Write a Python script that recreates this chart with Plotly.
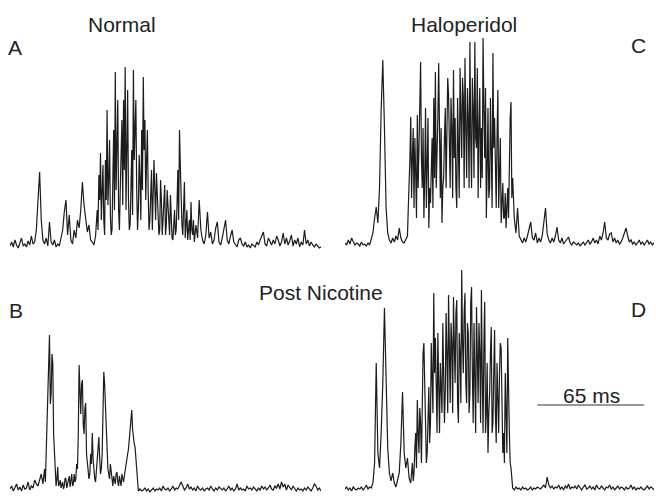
import plotly.graph_objects as go

W, H = 656, 501

# amplitude samples (arbitrary units above baseline), one sample per ms
normal = [4, 8, 3, 10, 5, 2, 7, 12, 4, 6,
          3, 9, 5, 14, 6, 8, 20, 55, 78, 30,
          10, 6, 12, 4, 28, 8, 5, 10, 3, 6,
          4, 12, 20, 38, 50, 15, 35, 10, 6, 20,
          12, 30, 22, 40, 68, 45, 30, 18, 25, 10,
          8, 5, 14, 40, 75, 97, 60, 30, 90, 140,
          70, 35, 20, 120, 178, 95, 40, 60, 130, 150,
          183, 110, 50, 25, 100, 180, 120, 60, 40, 70,
          120, 173, 130, 90, 55, 30, 80, 50, 60, 77,
          40, 20, 50, 30, 65, 25, 45, 15, 30, 10,
          40, 20, 80, 120, 50, 15, 68, 25, 10, 30,
          48, 15, 8, 25, 12, 50, 20, 10, 6, 15,
          38, 12, 18, 6, 10, 22, 28, 8, 5, 12,
          20, 30, 10, 6, 14, 20, 8, 5, 3, 10,
          12, 6, 4, 8, 3, 5, 2, 6, 4, 3,
          8, 5, 10, 14, 18, 6, 4, 12, 8, 5,
          10, 6, 14, 10, 4, 8, 17, 6, 12, 5,
          9, 15, 4, 10, 6, 12, 3, 8, 5, 20,
          6, 10, 4, 8, 5, 3, 6, 4, 2, 3]
# extra half-ms samples inside the burst, starting at t = 52.5 ms
normal_burst_start = 52
normal_burst = [25, 20, 50, 30, 85, 15, 50, 45, 110, 15,
                70, 40, 60, 150, 20, 110, 45, 80, 40, 160,
                20, 70, 35, 90, 150, 20, 95, 30, 60, 100,
                50, 120, 20, 60, 20, 90, 30, 55, 15, 70,
                15, 45, 15, 60, 20, 55, 12, 25, 15, 45,
                30, 85, 25, 40, 12, 40, 22, 10, 20, 30]

haloperidol = [5, 3, 8, 4, 10, 6, 3, 5, 4, 2,
               6, 3, 4, 2, 5, 3, 8, 15, 30, 41,
               25, 60, 138, 188, 120, 40, 15, 8, 5, 10,
               6, 12, 8, 20, 10, 6, 5, 8, 12, 60,
               131, 90, 40, 75, 133, 100, 186, 60, 30, 140,
               80, 20, 45, 110, 150, 176, 90, 185, 50, 25,
               70, 140, 100, 153, 60, 120, 178, 130, 40, 100,
               180, 90, 150, 190, 70, 130, 206, 60, 140, 206,
               100, 50, 160, 120, 210, 90, 30, 140, 60, 110,
               195, 130, 40, 158, 80, 25, 65, 30, 20, 60,
               100, 146, 70, 30, 15, 40, 12, 8, 5, 10,
               6, 12, 18, 26, 10, 8, 15, 5, 10, 6,
               12, 28, 40, 14, 8, 5, 10, 6, 12, 21,
               8, 5, 10, 4, 6, 8, 11, 5, 3, 6,
               4, 3, 5, 2, 4, 6, 3, 5, 8, 4,
               6, 10, 5, 8, 4, 12, 8, 15, 26, 10,
               8, 14, 15, 6, 10, 5, 8, 4, 6, 10,
               14, 20, 12, 6, 8, 4, 6, 3, 5, 8,
               4, 6, 3, 5, 8, 4, 6, 3, 5]
haloperidol_burst_start = 38
haloperidol_burst = [40, 90, 50, 120, 110, 30, 60, 150, 90, 120,
                     70, 40, 130, 60, 100, 40, 70, 60, 130, 70,
                     120, 60, 110, 60, 170, 90, 150, 50, 90, 60,
                     150, 50, 120, 170, 60, 120, 160, 60, 110, 170,
                     70, 110, 180, 120, 60, 70, 140, 160, 80, 50,
                     150, 40, 100, 60, 110, 40, 110, 40, 30, 55,
                     40, 30, 130, 50, 45]

post_nicotine_b = [5, 8, 3, 6, 10, 4, 7, 3, 9, 5,
                   6, 12, 4, 8, 6, 14, 10, 8, 14, 20,
                   10, 25, 41, 80, 159, 100, 131, 40, 8, 27,
                   10, 6, 12, 8, 15, 10, 18, 12, 8, 20,
                   15, 25, 129, 80, 114, 60, 91, 30, 15, 40,
                   61, 20, 12, 30, 57, 20, 40, 122, 90, 35,
                   20, 30, 12, 18, 10, 22, 8, 14, 20, 12,
                   25, 34, 45, 60, 84, 55, 47, 20, 3, 5,
                   3, 4, 6, 3, 5, 2, 4, 6, 3, 5,
                   4, 6, 3, 8, 5, 4, 6, 3, 5, 8,
                   4, 6, 5, 9, 12, 8, 4, 6, 10, 5,
                   7, 4, 6, 3, 8, 5, 4, 6, 3, 5,
                   6, 4, 8, 5, 3, 6, 4, 7, 5, 4,
                   6, 3, 5, 8, 4, 6, 3, 5, 10, 4,
                   6, 4, 5, 3, 8, 5, 6, 4, 7, 5,
                   3, 6, 4, 8, 5, 7, 4, 6, 9, 5,
                   4, 8, 6, 10, 5, 12, 7, 10, 4, 9,
                   6, 4, 8, 5, 3, 6, 4, 5, 3, 6,
                   4, 7, 5, 3, 6, 10, 8, 4, 6, 3]
post_nicotine_b_burst_start = 20
post_nicotine_b_burst = [18, 12, 60, 120, 90, 140, 60, 20, 15, 8,
                         14, 9, 5, 16, 6, 14, 7, 20, 10, 12,
                         30, 60, 100, 110, 70, 85, 40, 25, 20, 30,
                         35, 15, 25, 45, 35, 25, 80, 110, 60, 25,
                         15, 20, 8, 15, 20, 12, 18, 8, 15, 18,
                         30, 40, 55, 70, 65, 50, 35, 10]

post_nicotine_d = [4, 6, 3, 5, 2, 6, 4, 3, 5, 4,
                   6, 3, 5, 8, 4, 6, 5, 10, 30, 130,
                   40, 25, 60, 110, 185, 120, 45, 20, 12, 20,
                   10, 6, 12, 20, 50, 101, 40, 25, 35, 15,
                   10, 30, 20, 60, 93, 40, 70, 110, 150, 60,
                   40, 106, 70, 120, 200, 155, 60, 90, 130, 80,
                   133, 100, 140, 198, 90, 150, 196, 110, 193, 70,
                   140, 223, 120, 200, 90, 160, 100, 206, 70, 130,
                   186, 90, 140, 203, 60, 191, 80, 40, 100, 166,
                   70, 163, 50, 90, 120, 145, 40, 30, 80, 155,
                   60, 25, 5, 3, 6, 4, 5, 3, 6, 4,
                   5, 3, 4, 6, 3, 5, 4, 6, 5, 4,
                   6, 8, 5, 16, 8, 5, 7, 4, 6, 5,
                   8, 4, 6, 3, 7, 5, 9, 4, 6, 5,
                   7, 4, 8, 5, 3, 6, 8, 4, 5, 7,
                   4, 6, 3, 8, 5, 4, 7, 5, 3, 6,
                   5, 8, 4, 6, 3, 5, 7, 4, 6, 5,
                   3, 6, 4, 5, 8, 4, 6, 3, 5, 4,
                   6, 4, 3, 5, 7, 4, 6, 5, 3]
post_nicotine_d_burst_start = 40
post_nicotine_d_burst = [20, 12, 45, 25, 60, 85, 30, 140, 100, 30,
                         80, 50, 150, 80, 120, 100, 160, 60, 100, 170,
                         70, 180, 80, 130, 170, 80, 150, 180, 90, 160,
                         90, 150, 180, 110, 170, 80, 190, 120, 170, 60,
                         130, 170, 70, 120, 150, 60, 130, 80, 140, 60,
                         120, 80, 130, 60, 150, 90, 60, 120, 40, 90,
                         30]

scale_bar_ms = 65
scale_label = "65 ms"

FONT = "Liberation Sans, Arial, Helvetica, sans-serif"
LINE = "#1c1c1c"


def px_x(p):
    return p / W


def px_y(p):
    return 1 - p / H


def merge(main, extra, start):
    pts = [(float(i), v) for i, v in enumerate(main)]
    pts += [(start + 0.5 + i, v) for i, v in enumerate(extra)]
    pts.sort()
    return [p[0] for p in pts], [p[1] for p in pts]


fig = go.Figure()

panels = [
    # main, extra, extra start, xaxis, yaxis, left px, right px, baseline px, xmax
    (normal, normal_burst, normal_burst_start, "x", "y", 10, 321, 250, 189),
    (haloperidol, haloperidol_burst, haloperidol_burst_start, "x2", "y2", 345, 654, 248, 188),
    (post_nicotine_b, post_nicotine_b_burst, post_nicotine_b_burst_start, "x3", "y3", 10, 321, 494, 189),
    (post_nicotine_d, post_nicotine_d_burst, post_nicotine_d_burst_start, "x4", "y4", 345, 654, 493, 188),
]

YMIN, YMAX = -5, 230
layout_axes = {}
for i, (main, extra, start, xa, ya, left, right, base, xmax) in enumerate(panels):
    t, v = merge(main, extra, start)
    fig.add_trace(go.Scatter(x=t, y=v, mode="lines", xaxis=xa, yaxis=ya,
                             line=dict(color=LINE, width=1.2),
                             hoverinfo="skip", showlegend=False))
    xname = "xaxis" if i == 0 else f"xaxis{i + 1}"
    yname = "yaxis" if i == 0 else f"yaxis{i + 1}"
    layout_axes[xname] = dict(domain=[px_x(left), px_x(right)], range=[0, xmax],
                              visible=False, anchor=ya)
    layout_axes[yname] = dict(domain=[px_y(base - YMIN), px_y(base - YMAX)],
                              range=[YMIN, YMAX], visible=False, anchor=xa)

fig.update_layout(**layout_axes)

# scale bar in panel D data coordinates
bar_start = 117
fig.add_shape(type="line", xref="x4", yref="y4",
              x0=bar_start, x1=bar_start + scale_bar_ms, y0=88, y1=88,
              line=dict(color="#333", width=1.2))

texts = [
    ("Normal", 122, 24),
    ("A", 15, 47),
    ("Haloperidol", 464, 24),
    ("C", 638, 46),
    ("Post Nicotine", 321, 292),
    ("B", 16, 310),
    ("D", 638, 309),
    (scale_label, 591, 395),
]
for txt, x, y in texts:
    fig.add_annotation(text=txt, x=px_x(x), y=px_y(y), xref="paper", yref="paper",
                       showarrow=False, xanchor="center", yanchor="middle",
                       font=dict(family=FONT, size=21, color="#222"))

fig.update_layout(width=W, height=H, margin=dict(l=0, r=0, t=0, b=0),
                  paper_bgcolor="white", plot_bgcolor="white")

fig.write_html("out.html", config={"displayModeBar": False},
               post_script="document.body.style.margin='0';document.body.style.overflow='hidden';")
